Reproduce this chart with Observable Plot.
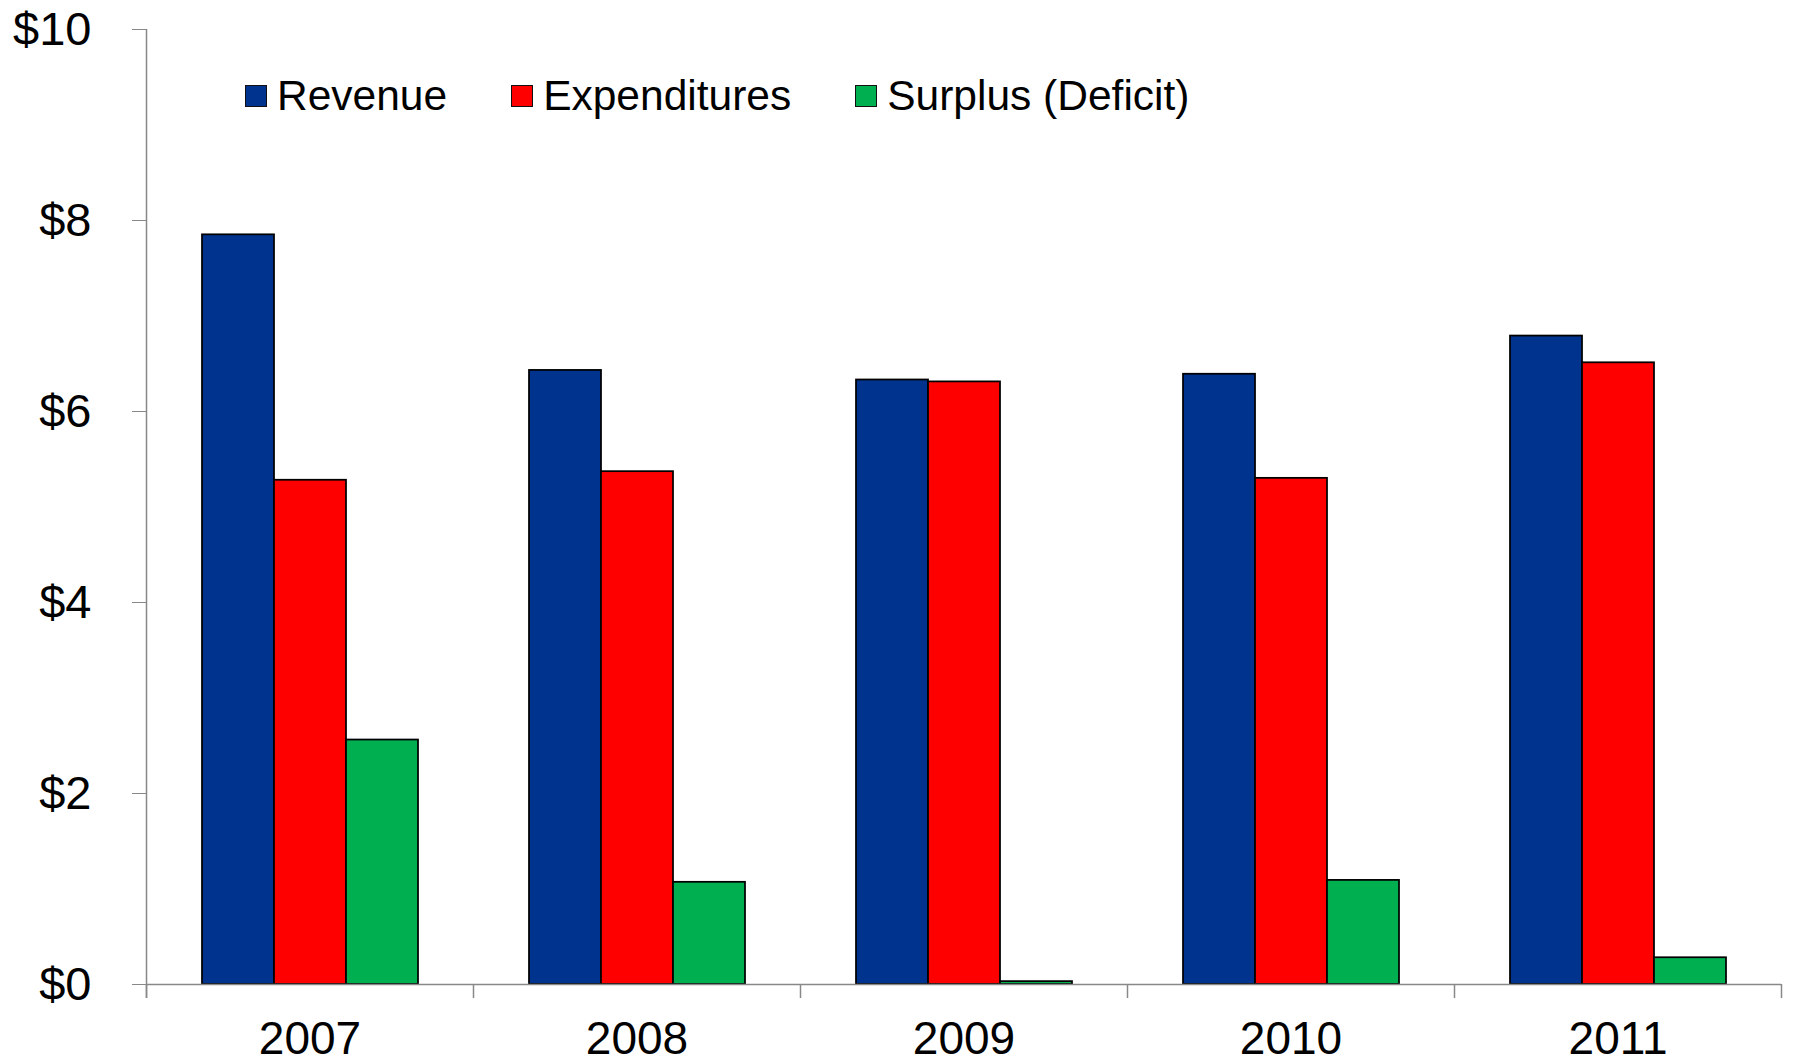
<!DOCTYPE html>
<html><head><meta charset="utf-8">
<script src="https://cdn.jsdelivr.net/npm/d3@7"></script>
<script src="https://cdn.jsdelivr.net/npm/@observablehq/plot@0.6"></script>
<style>
body{margin:0;background:#fff;}
#wrap{position:relative;width:1793px;height:1064px;font-family:"Liberation Sans",Arial,sans-serif;}
#wrap svg{display:block;}
#legend{position:absolute;left:245px;top:75px;display:flex;align-items:center;font-size:42.5px;line-height:42px;color:#000;z-index:2;}
.item{display:flex;align-items:center;margin-right:64px;}
.sw{width:20px;height:20px;border:1.3px solid #111;margin-right:10px;box-sizing:content-box;}
</style></head><body><div id="wrap"><div id="legend"></div></div>
<script>
const years = ["2007", "2008", "2009", "2010", "2011"];
const series = ["Revenue", "Expenditures", "Surplus (Deficit)"];
const revenue = [7.85, 6.43, 6.33, 6.39, 6.79];
const expenditures = [5.28, 5.37, 6.31, 5.30, 6.51];
const surplus = [2.56, 1.07, 0.03, 1.09, 0.28];
const colors = ["#00338E", "#FF0000", "#00B050"];
const yTicks = [0, 2, 4, 6, 8, 10];

const values = [revenue, expenditures, surplus];
const data = [];
years.forEach((yr, i) => series.forEach((s, j) => data.push({year: yr, series: s, value: values[j][i]})));

const font = '"Liberation Sans", Arial, sans-serif';
const plot = Plot.plot({
  width: 1793, height: 1064,
  marginTop: 29, marginBottom: 80, marginLeft: 146, marginRight: 12,
  style: {fontFamily: font, fontSize: "47px", color: "#000", background: "#fff", overflow: "visible"},
  fx: {domain: years, padding: 0, label: null},
  x: {domain: series, paddingInner: 0, paddingOuter: 0.74, axis: null},
  y: {domain: [0, 10], label: null},
  color: {domain: series, range: colors},
  marks: [
    Plot.barY(data, {fx: "year", x: "series", y: "value", fill: "series", stroke: "#000", strokeWidth: 1.75}),
    Plot.ruleY([0], {stroke: "#888", strokeWidth: 1.5}),
    Plot.axisY({ticks: yTicks, tickFormat: d => "$" + d, tickSize: 14, tickPadding: 41, stroke: "#888", fill: "#000", fontSize: 47, label: null}),
    Plot.axisFx({anchor: "bottom", tickSize: 0, tickPadding: 37, fontSize: 46, fill: "#000", label: null})
  ]
});
const wrap = document.getElementById("wrap");
wrap.insertBefore(plot, wrap.firstChild);

// axis line and category boundary ticks
const fx = plot.scale("fx"), y = plot.scale("y");
const svg = d3.select(plot);
const bw = fx.bandwidth;
const edges = years.map(d => fx.apply(d)).concat([fx.apply(years[years.length - 1]) + bw]);
const y0 = y.apply(0), y10 = y.apply(10);
const g = svg.append("g").attr("stroke", "#888").attr("stroke-width", 1.5);
g.selectAll("line.edge").data(edges).join("line")
  .attr("x1", d => d + 0.5).attr("x2", d => d + 0.5)
  .attr("y1", y0).attr("y2", y0 + 14);
g.append("line").attr("x1", edges[0] + 0.5).attr("x2", edges[0] + 0.5).attr("y1", y10).attr("y2", y0 + 14);

// legend
const legend = d3.select("#legend");
series.forEach((s, i) => {
  const it = legend.append("div").attr("class", "item");
  it.append("div").attr("class", "sw").style("background", colors[i]);
  it.append("span").text(s);
});
</script>
</body></html>
